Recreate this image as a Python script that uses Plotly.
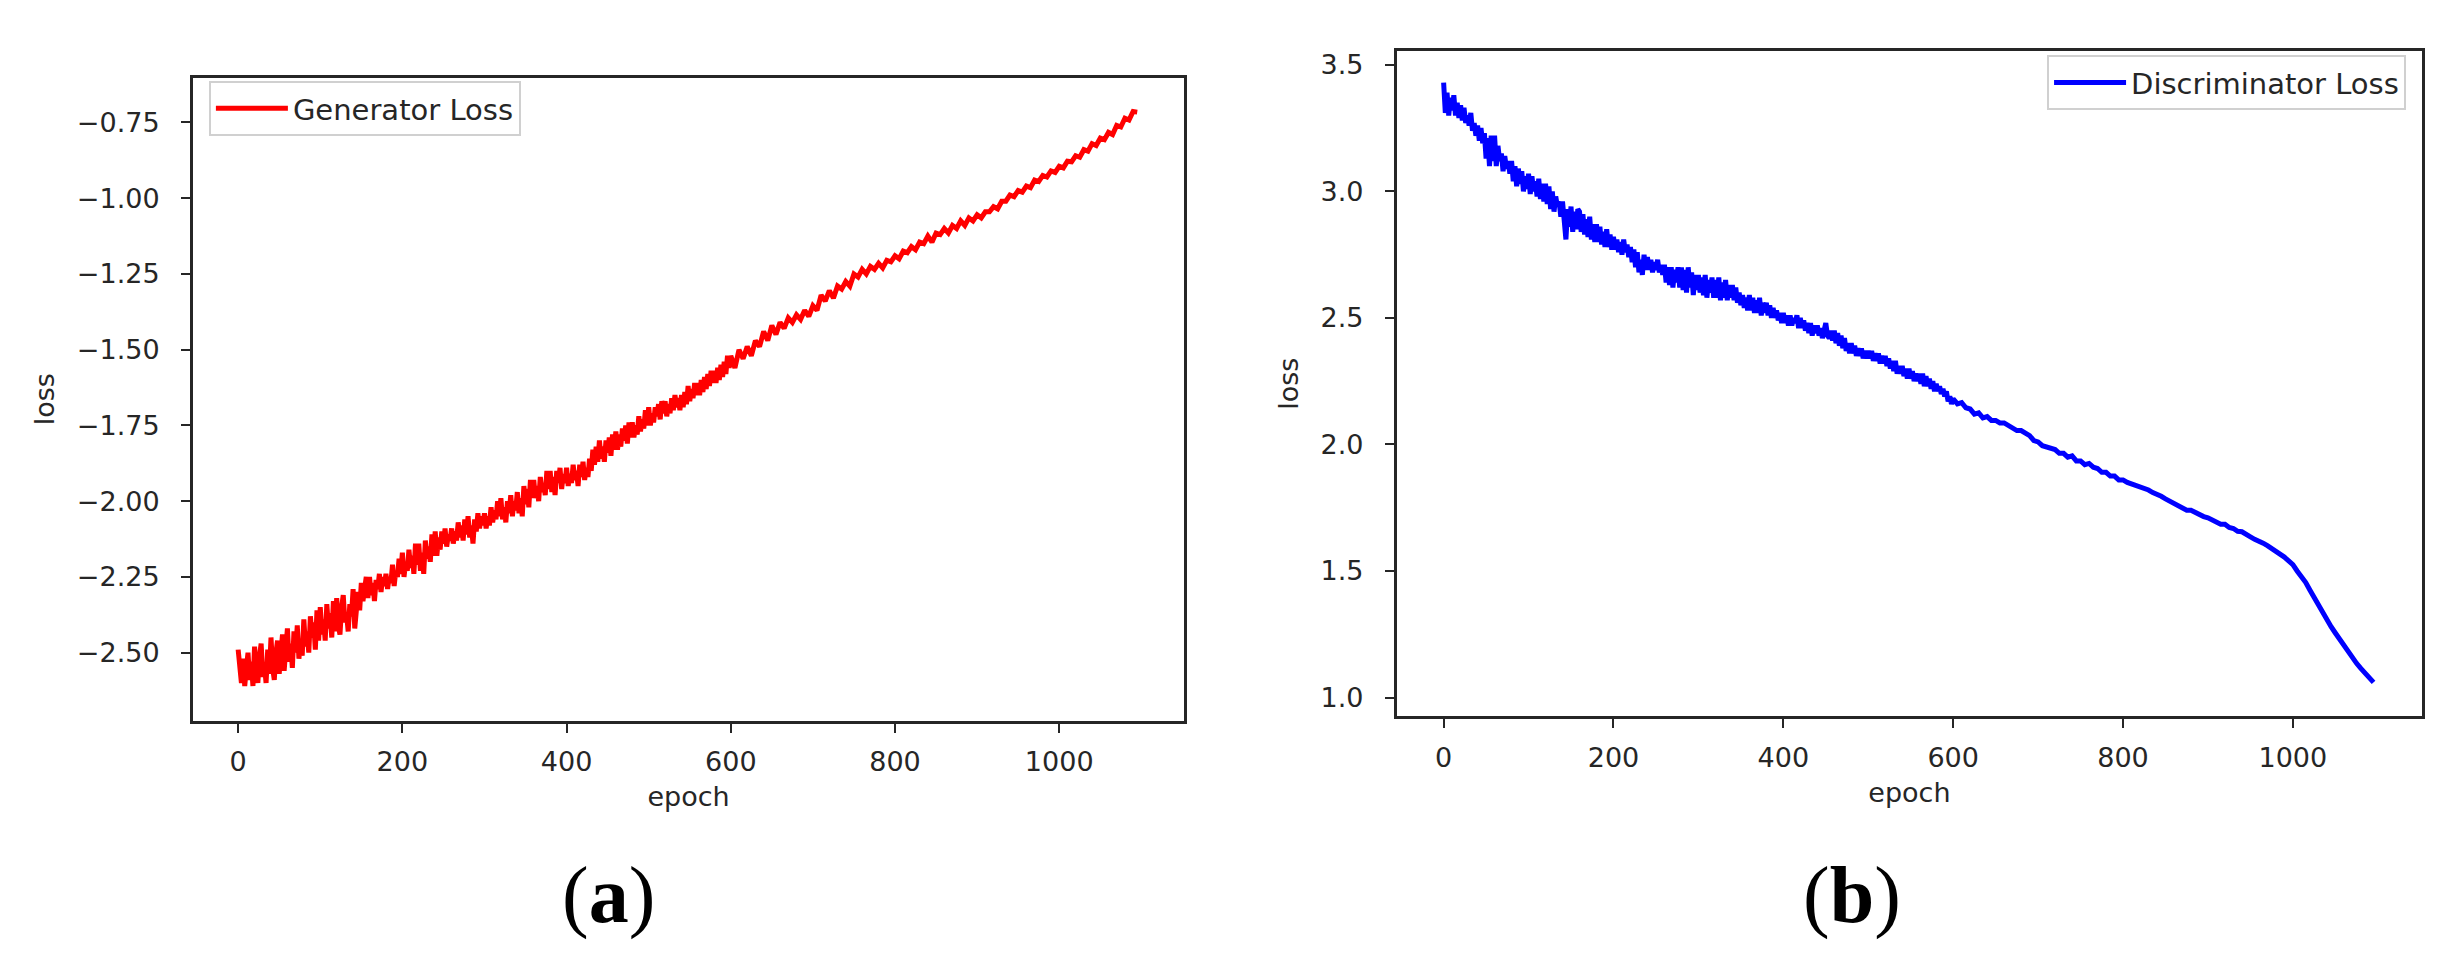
import plotly.graph_objects as go

# epochs: every 2 steps up to 598 (noisy part), then every 5 steps up to 1095
epochs = list(range(0, 600, 2)) + list(range(600, 1100, 5))

# values
generator_loss = [
    -2.49, -2.57, -2.60, -2.52, -2.61, -2.55, -2.50, -2.59, -2.53, -2.61,
    -2.48, -2.56, -2.60, -2.51, -2.47, -2.58, -2.54, -2.60, -2.49, -2.57,
    -2.45, -2.55, -2.59, -2.50, -2.46, -2.57, -2.52, -2.44, -2.56, -2.49,
    -2.42, -2.53, -2.47, -2.55, -2.43, -2.50, -2.41, -2.52, -2.46, -2.51,
    -2.39, -2.48, -2.43, -2.50, -2.38, -2.45, -2.40, -2.49, -2.36, -2.46,
    -2.35, -2.44, -2.39, -2.46, -2.34, -2.42, -2.37, -2.45, -2.33, -2.43,
    -2.32, -2.41, -2.44, -2.35, -2.31, -2.40, -2.37, -2.43, -2.34, -2.38,
    -2.29, -2.42, -2.33, -2.30, -2.36, -2.27, -2.33, -2.29, -2.25, -2.32,
    -2.25, -2.31, -2.27, -2.33, -2.26, -2.29, -2.24, -2.30, -2.25, -2.28,
    -2.24, -2.29, -2.25, -2.27, -2.21, -2.28, -2.23, -2.25, -2.19, -2.24,
    -2.17, -2.25, -2.20, -2.23, -2.16, -2.22, -2.18, -2.24, -2.14, -2.21,
    -2.14, -2.23, -2.17, -2.24, -2.13, -2.19, -2.15, -2.20, -2.11, -2.18,
    -2.10, -2.18, -2.12, -2.16, -2.10, -2.14, -2.09, -2.15, -2.11, -2.13,
    -2.09, -2.14, -2.10, -2.13, -2.07, -2.12, -2.08, -2.13, -2.06, -2.11,
    -2.05, -2.12, -2.08, -2.14, -2.06, -2.10, -2.04, -2.09, -2.05, -2.08,
    -2.04, -2.09, -2.05, -2.08, -2.02, -2.07, -2.03, -2.06, -2.00, -2.05,
    -1.99, -2.06, -2.02, -2.07, -2.00, -2.04, -1.98, -2.05, -2.00, -2.03,
    -1.97, -2.04, -1.99, -2.05, -1.95, -2.01, -1.96, -2.02, -1.93, -1.99,
    -1.93, -1.99, -1.95, -2.00, -1.92, -1.97, -1.94, -1.98, -1.90, -1.96,
    -1.90, -1.97, -1.92, -1.98, -1.90, -1.94, -1.89, -1.96, -1.91, -1.94,
    -1.89, -1.95, -1.91, -1.94, -1.88, -1.93, -1.90, -1.95, -1.88, -1.92,
    -1.87, -1.93, -1.89, -1.92, -1.86, -1.90, -1.83, -1.88, -1.82, -1.87,
    -1.80, -1.86, -1.82, -1.87, -1.80, -1.84, -1.79, -1.85, -1.78, -1.83,
    -1.77, -1.83, -1.78, -1.82, -1.76, -1.80, -1.75, -1.81, -1.74, -1.79,
    -1.74, -1.79, -1.75, -1.78, -1.72, -1.77, -1.73, -1.76, -1.70, -1.75,
    -1.69, -1.75, -1.71, -1.74, -1.69, -1.72, -1.68, -1.73, -1.67, -1.71,
    -1.67, -1.72, -1.68, -1.71, -1.66, -1.70, -1.65, -1.69, -1.66, -1.70,
    -1.65, -1.69, -1.64, -1.68, -1.62, -1.67, -1.63, -1.66, -1.61, -1.65,
    -1.61, -1.65, -1.60, -1.64, -1.59, -1.63, -1.58, -1.62, -1.57, -1.61,
    -1.57, -1.61, -1.56, -1.60, -1.55, -1.59, -1.54, -1.58, -1.52, -1.56,
    -1.52, -1.56, -1.50, -1.53, -1.49, -1.52, -1.47, -1.49,
    -1.44, -1.47, -1.42, -1.45, -1.41, -1.43, -1.395, -1.41,
    -1.385, -1.40, -1.37, -1.39, -1.355, -1.37, -1.32, -1.34,
    -1.305, -1.33, -1.29, -1.30, -1.275, -1.29, -1.25, -1.26,
    -1.235, -1.25, -1.225, -1.235, -1.215, -1.23, -1.205, -1.21,
    -1.19, -1.20, -1.175, -1.18, -1.16, -1.17, -1.145, -1.15,
    -1.125, -1.145, -1.115, -1.12, -1.10, -1.115, -1.09, -1.10,
    -1.075, -1.09, -1.065, -1.075, -1.055, -1.065, -1.045, -1.045,
    -1.028, -1.035, -1.01, -1.01, -0.99, -0.995, -0.975, -0.98,
    -0.96, -0.965, -0.94, -0.945, -0.925, -0.93, -0.91, -0.915,
    -0.895, -0.90, -0.878, -0.88, -0.86, -0.865, -0.84, -0.845,
    -0.82, -0.826, -0.802, -0.807, -0.783, -0.79, -0.76, -0.765,
    -0.736, -0.742, -0.714, -0.716,
]

discriminator_loss = [
    3.43, 3.31, 3.39, 3.30, 3.37, 3.32, 3.38, 3.30, 3.35, 3.29,
    3.34, 3.28, 3.33, 3.27, 3.30, 3.26, 3.31, 3.24, 3.27, 3.22,
    3.26, 3.20, 3.25, 3.19, 3.23, 3.13, 3.21, 3.10, 3.22, 3.12,
    3.22, 3.10, 3.18, 3.12, 3.15, 3.08, 3.14, 3.09, 3.12, 3.07,
    3.12, 3.04, 3.10, 3.02, 3.09, 3.03, 3.08, 3.00, 3.06, 3.01,
    3.07, 2.99, 3.06, 3.00, 3.04, 2.98, 3.05, 2.97, 3.03, 2.96,
    3.03, 2.95, 3.02, 2.93, 3.00, 2.92, 2.98, 2.94, 2.96, 2.90,
    2.96, 2.87, 2.81, 2.93, 2.86, 2.94, 2.84, 2.92, 2.85, 2.93,
    2.92, 2.84, 2.91, 2.83, 2.89, 2.82, 2.90, 2.81, 2.87, 2.80,
    2.87, 2.80, 2.86, 2.79, 2.84, 2.78, 2.85, 2.78, 2.83, 2.77,
    2.82, 2.77, 2.81, 2.76, 2.80, 2.75, 2.81, 2.76, 2.79, 2.74,
    2.78, 2.72, 2.77, 2.70, 2.76, 2.68, 2.73, 2.67, 2.75, 2.69,
    2.74, 2.69, 2.73, 2.68, 2.72, 2.69, 2.73, 2.68, 2.71, 2.67,
    2.71, 2.64, 2.70, 2.63, 2.70, 2.62, 2.69, 2.64, 2.70, 2.62,
    2.70, 2.61, 2.69, 2.60, 2.70, 2.62, 2.68, 2.59, 2.67, 2.61,
    2.67, 2.60, 2.66, 2.59, 2.67, 2.58, 2.65, 2.60, 2.66, 2.58,
    2.65, 2.58, 2.66, 2.57, 2.64, 2.58, 2.65, 2.57, 2.63, 2.58,
    2.63, 2.57, 2.62, 2.56, 2.60, 2.55, 2.59, 2.54, 2.58, 2.53,
    2.59, 2.53, 2.58, 2.52, 2.57, 2.52, 2.58, 2.51, 2.56, 2.52,
    2.56, 2.51, 2.55, 2.50, 2.54, 2.50, 2.53, 2.49, 2.52, 2.48,
    2.52, 2.48, 2.51, 2.47, 2.51, 2.47, 2.50, 2.48, 2.51, 2.46,
    2.50, 2.46, 2.49, 2.45, 2.48, 2.44, 2.48, 2.43, 2.47, 2.44,
    2.47, 2.43, 2.46, 2.42, 2.45, 2.48, 2.43, 2.42, 2.45, 2.41,
    2.45, 2.40, 2.44, 2.39, 2.43, 2.38, 2.42, 2.37, 2.40, 2.36,
    2.40, 2.36, 2.39, 2.35, 2.38, 2.35, 2.38, 2.34, 2.37, 2.34,
    2.37, 2.34, 2.37, 2.33, 2.36, 2.33, 2.36, 2.32, 2.35, 2.32,
    2.35, 2.31, 2.34, 2.30, 2.33, 2.29, 2.33, 2.28, 2.31, 2.28,
    2.31, 2.27, 2.30, 2.26, 2.30, 2.26, 2.29, 2.25, 2.28, 2.25,
    2.28, 2.24, 2.28, 2.23, 2.27, 2.23, 2.26, 2.22, 2.25, 2.21,
    2.24, 2.21, 2.23, 2.20, 2.22, 2.19, 2.21, 2.17, 2.19, 2.16,
    2.18, 2.16, 2.165, 2.145, 2.14, 2.12, 2.125, 2.105,
    2.11, 2.095, 2.095, 2.085, 2.085, 2.075, 2.07, 2.055,
    2.055, 2.045, 2.035, 2.015, 2.01, 1.995, 1.99, 1.98,
    1.98, 1.965, 1.965, 1.95, 1.955, 1.935, 1.935, 1.92,
    1.925, 1.91, 1.905, 1.89, 1.89, 1.875, 1.875, 1.86,
    1.86, 1.85, 1.845, 1.835, 1.835, 1.825, 1.82, 1.81,
    1.805, 1.795, 1.785, 1.775, 1.77, 1.76, 1.75, 1.74,
    1.74, 1.73, 1.725, 1.715, 1.71, 1.70, 1.695, 1.685,
    1.685, 1.672, 1.668, 1.657, 1.655, 1.642, 1.635, 1.625,
    1.62, 1.61, 1.60, 1.59, 1.58, 1.567, 1.555, 1.54,
    1.525, 1.50, 1.48, 1.455, 1.425, 1.395, 1.365, 1.335,
    1.31, 1.28, 1.255, 1.23, 1.205, 1.18, 1.16, 1.135,
    1.115, 1.095, 1.075, 1.06,
]

x_ticks = [0, 200, 400, 600, 800, 1000]
gen_y_ticks = [-2.5, -2.25, -2.0, -1.75, -1.5, -1.25, -1.0, -0.75]
dis_y_ticks = [1.0, 1.5, 2.0, 2.5, 3.0, 3.5]

ink = "#262626"
tick_font = dict(family="DejaVu Sans", size=27, color=ink)

fig = go.Figure()

fig.add_trace(go.Scatter(
    x=epochs, y=generator_loss, mode="lines", name="Generator Loss",
    line=dict(color="#ff0000", width=5), xaxis="x", yaxis="y", legend="legend"
))
fig.add_trace(go.Scatter(
    x=epochs, y=discriminator_loss, mode="lines", name="Discriminator Loss",
    line=dict(color="#0000ff", width=5), xaxis="x2", yaxis="y2", legend="legend2"
))

axis_style = dict(
    showline=True, mirror=True, linecolor=ink, linewidth=3,
    ticks="outside", ticklen=9, tickwidth=2, tickcolor=ink,
    showgrid=False, zeroline=False, tickfont=tick_font,
)

legend_style = dict(
    xanchor="left", yanchor="top", bgcolor="white",
    bordercolor="#d0d0d0", borderwidth=2,
    font=dict(size=29, color=ink), itemwidth=72,
)

fig.update_layout(
    width=2447, height=961,
    margin=dict(l=0, r=0, t=0, b=0),
    paper_bgcolor="white", plot_bgcolor="white",
    font=dict(family="DejaVu Sans", color=ink),
    showlegend=True,
    xaxis=dict(axis_style, domain=[0.0756, 0.4806], range=[-55, 1152],
               tickvals=x_ticks, anchor="y", ticklabelstandoff=6,
               title=dict(text="epoch", font=dict(size=27), standoff=12)),
    yaxis=dict(axis_style, domain=[0.2591, 0.9292], range=[-2.724, -0.603],
               tickvals=gen_y_ticks, tickformat=".2f", anchor="x",
               ticklabelstandoff=16,
               title=dict(text="loss", font=dict(size=27), standoff=15)),
    xaxis2=dict(axis_style, domain=[0.5676, 0.9865], range=[-55, 1152],
                tickvals=x_ticks, anchor="y2", ticklabelstandoff=6,
                title=dict(text="epoch", font=dict(size=27), standoff=12)),
    yaxis2=dict(axis_style, domain=[0.2633, 0.9573], range=[0.925, 3.555],
                tickvals=dis_y_ticks, tickformat=".1f", anchor="x2",
                ticklabelstandoff=16,
                title=dict(text="loss", font=dict(size=27), standoff=15)),
    legend=dict(legend_style, x=0.0821, y=0.926),
    legend2=dict(legend_style, x=0.98, y=0.953, xanchor="right"),
    annotations=[
        dict(text="(<b>a</b>)", x=0.2456, y=0.077, xref="paper", yref="paper",
             showarrow=False, xanchor="center", yanchor="middle",
             font=dict(family="Liberation Serif", size=80, color="black")),
        dict(text="(<b>b</b>)", x=0.7536, y=0.077, xref="paper", yref="paper",
             showarrow=False, xanchor="center", yanchor="middle",
             font=dict(family="Liberation Serif", size=80, color="black")),
    ],
)

fig.write_html("out.html")
